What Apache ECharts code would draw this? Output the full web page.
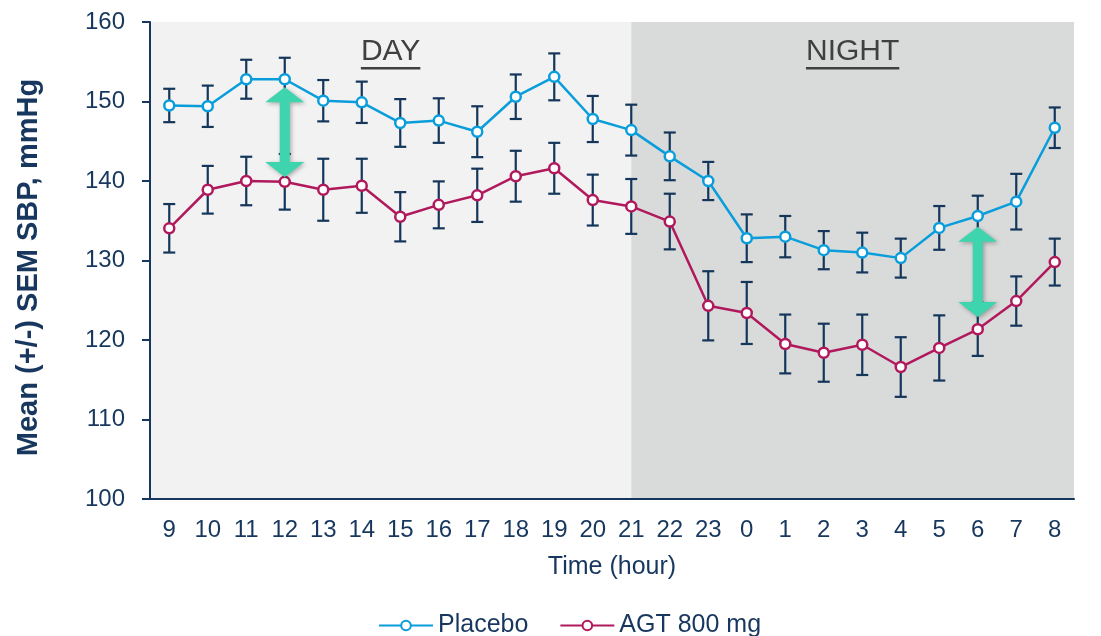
<!DOCTYPE html>
<html>
<head>
<meta charset="utf-8">
<script src="https://cdn.jsdelivr.net/npm/echarts@6/dist/echarts.min.js"></script>
<style>html,body{margin:0;padding:0;background:#fff}#c{width:1101px;height:636px}</style>
</head>
<body>
<div id="c"></div>
<script>
// ---- data ----
var hours = ['9','10','11','12','13','14','15','16','17','18','19','20','21','22','23','0','1','2','3','4','5','6','7','8'];
var placebo    = [149.5,149.4,152.8,152.8,150.1,149.9,147.3,147.6,146.2,150.6,153.1,147.8,146.4,143.1,140.0,132.8,133.0,131.3,131.0,130.3,134.1,135.6,137.4,146.7];
var placeboSem = [2.1,2.6,2.45,2.7,2.6,2.6,3.0,2.8,3.2,2.8,2.95,2.9,3.2,3.0,2.4,3.0,2.6,2.4,2.5,2.45,2.75,2.55,3.5,2.55];
var agt        = [134.05,138.9,140.0,139.9,138.9,139.4,135.5,137.0,138.2,140.6,141.6,137.6,136.8,134.9,124.3,123.4,119.5,118.4,119.4,116.6,119.0,121.35,124.9,129.8];
var agtSem     = [3.05,3.0,3.05,3.5,3.9,3.4,3.1,2.95,3.35,3.2,3.2,3.2,3.45,3.5,4.35,3.9,3.7,3.65,3.8,3.75,4.1,3.35,3.1,2.95];
var yTicks = {min:100, max:160, interval:10};
// periods: [startIndex, endIndex, label] on a band axis (-0.5 .. 23.5)
var periods = [[-0.5, 12, 'DAY'], [12, 23.5, 'NIGHT']];
// difference arrows: [hour, from, to]
var arrows = [['12', 151.8, 140.5], ['6', 134.25, 122.9]];

var NAVY = '#17375e';
var BAR = '#14365a';
var BLUE = '#0a9ddb';
var RED = '#b0195c';
var FONT = '"Liberation Sans", Arial, sans-serif';

function errData(vals, sem){
  return vals.map(function(v,i){ return [i, v - sem[i], v + sem[i]]; });
}
var measureCtx = document.createElement('canvas').getContext('2d');

function renderErr(params, api){
  var x = api.value(0);
  var lo = api.coord([x, api.value(1)]);
  var hi = api.coord([x, api.value(2)]);
  var hw = 6;
  var st = {stroke: BAR, lineWidth: 2.2};
  return {type:'group', children:[
    {type:'line', shape:{x1:lo[0], y1:lo[1], x2:hi[0], y2:hi[1]}, style:st},
    {type:'line', shape:{x1:lo[0]-hw, y1:lo[1], x2:lo[0]+hw, y2:lo[1]}, style:st},
    {type:'line', shape:{x1:hi[0]-hw, y1:hi[1], x2:hi[0]+hw, y2:hi[1]}, style:st}
  ]};
}

var chart = echarts.init(document.getElementById('c'), null, {renderer:'canvas'});
chart.setOption({
  animation:false,
  backgroundColor:'#ffffff',
  textStyle:{fontFamily:FONT},
  grid:{left:150, right:27, top:22, bottom:137, containLabel:false},
  legend:{
    left:373, top:608, itemWidth:54, itemHeight:12, itemGap:31,
    textStyle:{fontSize:25, color:NAVY, fontFamily:FONT},
    data:['Placebo','AGT 800 mg']
  },
  xAxis:[{
    type:'category', data:hours, boundaryGap:true,
    axisLine:{lineStyle:{color:NAVY, width:2}},
    axisTick:{show:false},
    axisLabel:{interval:0, fontSize:24, color:NAVY, margin:19, fontFamily:FONT},
    name:'Time (hour)', nameLocation:'middle', nameGap:56,
    nameTextStyle:{fontSize:25, color:NAVY, fontFamily:FONT}
  },{
    type:'value', min:-0.5, max:23.5, show:false
  }],
  yAxis:{
    type:'value', min:yTicks.min, max:yTicks.max, interval:yTicks.interval,
    axisLine:{show:true, onZero:false, lineStyle:{color:NAVY, width:2}},
    axisTick:{show:true, length:8, lineStyle:{color:NAVY, width:2}},
    splitLine:{show:false},
    axisLabel:{fontSize:24, color:NAVY, margin:25, fontFamily:FONT},
    name:'Mean (+/-) SEM SBP, mmHg', nameLocation:'middle', nameGap:107,
    nameTextStyle:{fontSize:29, fontWeight:'bold', color:NAVY, fontFamily:FONT, padding:[0,14,0,0]}
  },
  series:[
    {
      type:'custom', xAxisIndex:1, z:0, silent:true,
      data:periods,
      renderItem:function(params, api){
        var a = api.coord([api.value(0), yTicks.max]);
        var b = api.coord([api.value(1), yTicks.min]);
        var label = periods[params.dataIndex][2];
        var fill = params.dataIndex === 0 ? '#f2f2f2' : '#d9dada';
        var cx = (a[0]+b[0])/2;
        measureCtx.font = '30px ' + FONT;
        var w = measureCtx.measureText(label).width;
        return {type:'group', children:[
          {type:'rect', shape:{x:a[0], y:a[1], width:b[0]-a[0], height:b[1]-a[1]}, style:{fill:fill}},
          {type:'text', x:cx, y:a[1]+30, style:{text:label, fill:'#404040', font:'30px ' + FONT, align:'center', verticalAlign:'middle'}},
          {type:'rect', shape:{x:cx-w/2, y:a[1]+45, width:w, height:2.5}, style:{fill:'#404040'}}
        ]};
      }
    },
    {
      type:'custom', z:2, silent:true, name:'errP',
      data:errData(placebo, placeboSem), renderItem:renderErr
    },
    {
      type:'custom', z:2, silent:true, name:'errA',
      data:errData(agt, agtSem), renderItem:renderErr
    },
    {
      name:'Placebo', type:'line', z:3, data:placebo,
      symbol:'circle', symbolSize:10,
      lineStyle:{color:BLUE, width:2.5},
      itemStyle:{color:'#ffffff', borderColor:BLUE, borderWidth:2.5}
    },
    {
      name:'AGT 800 mg', type:'line', z:3, data:agt,
      symbol:'circle', symbolSize:10,
      lineStyle:{color:RED, width:2.5},
      itemStyle:{color:'#ffffff', borderColor:RED, borderWidth:2.5}
    },
    {
      type:'custom', z:4, silent:true,
      data:arrows.map(function(a){ return [hours.indexOf(a[0]), a[1], a[2]]; }),
      renderItem:function(params, api){
        var x = api.value(0);
        var t = api.coord([x, api.value(1)]);
        var b = api.coord([x, api.value(2)]);
        var cx = t[0], ty = t[1], by = b[1];
        var hh = 15, hw = 19.5, sw = 5;
        var pts = [
          [cx, ty], [cx+hw, ty+hh], [cx+sw, ty+hh], [cx+sw, by-hh], [cx+hw, by-hh],
          [cx, by], [cx-hw, by-hh], [cx-sw, by-hh], [cx-sw, ty+hh], [cx-hw, ty+hh]
        ];
        return {type:'polygon', shape:{points:pts},
          style:{fill:'#3dd4ae', shadowBlur:4, shadowColor:'rgba(0,0,0,0.3)', shadowOffsetX:1.5, shadowOffsetY:1.5}};
      }
    }
  ]
});
</script>
</body>
</html>
